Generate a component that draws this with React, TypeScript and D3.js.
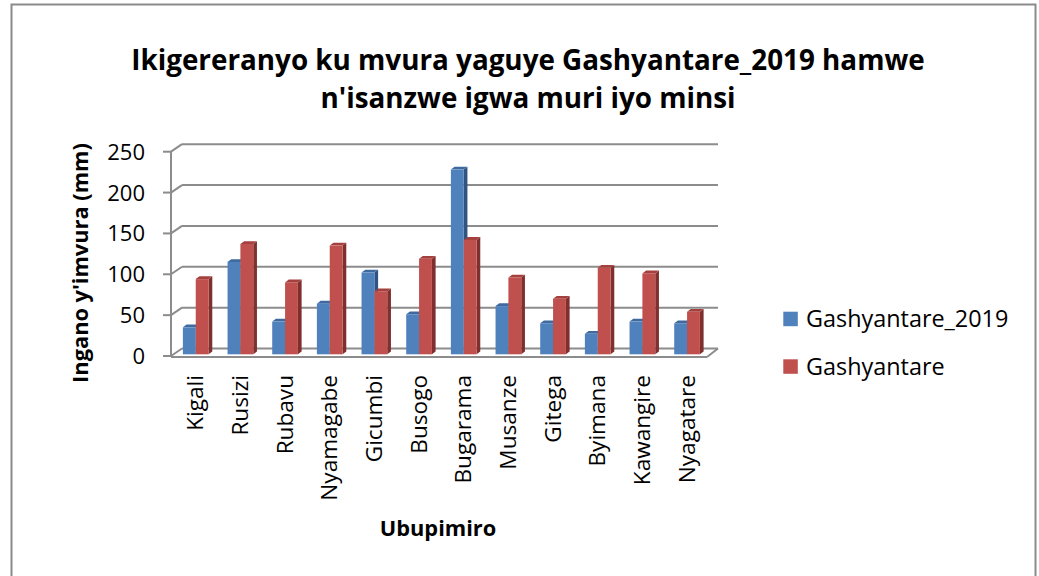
import React from "react";
import * as d3 from "d3";

const categories = ["Kigali","Rusizi","Rubavu","Nyamagabe","Gicumbi","Busogo","Bugarama","Musanze","Gitega","Byimana","Kawangire","Nyagatare"];
const series2019 = [33, 113, 40, 62, 100, 49, 226, 59, 38, 25, 40, 38];
const seriesNormal = [92, 135, 88, 133, 77, 117, 140, 94, 68, 106, 99, 52];
const seriesNames = ["Gashyantare_2019", "Gashyantare"];
const yTicks = [0, 50, 100, 150, 200, 250];

const FONT = "'Open Sans', sans-serif";

export default function App() {
  const W = 1039, H = 576;
  const x0 = 171, x1 = 707;
  const y = d3.scaleLinear().domain([0, 250]).range([356, 151.7]);
  const x = d3.scaleBand<string>().domain(categories).range([x0, x1]).padding(0);
  const sub = d3.scaleBand<string>().domain(seriesNames).range([0, 25.7]).padding(0);
  const back = { dx: 11, dy: -7.5 };
  const barPlane = { dx: 2.4, dy: -1.7 };
  const depth = { dx: 3.7, dy: -2.8 };

  const fronts = ["#4f81bd", "#c0504d"];
  const sides = ["#2f5482", "#7f302e"];
  const tops = ["#3f6aa0", "#a4403e"];
  const data = [series2019, seriesNormal];

  const grid = "#8c8c8c";

  const bars: React.ReactNode[] = [];
  categories.forEach((c, i) => {
    const bandStart = (x(c) as number) + (x.bandwidth() - sub.range()[1]) / 2 + barPlane.dx;
    seriesNames.forEach((s, j) => {
      const v = data[j][i];
      const l = bandStart + (sub(s) as number);
      const r = l + sub.bandwidth();
      const yb = y(0) + barPlane.dy;
      const yt = y(v) + barPlane.dy;
      const side = `M${r},${yb} L${r + depth.dx},${yb + depth.dy} L${r + depth.dx},${yt + depth.dy} L${r},${yt} Z`;
      const top = `M${l},${yt} L${l + depth.dx},${yt + depth.dy} L${r + depth.dx},${yt + depth.dy} L${r},${yt} Z`;
      bars.push(
        <g key={c + s}>
          <path d={side} fill={sides[j]} />
          <path d={top} fill={tops[j]} />
          <rect x={l} y={yt} width={r - l} height={yb - yt} fill={fronts[j]} />
        </g>
      );
    });
  });

  return (
    <svg width={W} height={H} style={{ position: "absolute", left: 0, top: 0, background: "#fff" }} fontFamily={FONT}>
      <rect x={0} y={0} width={W} height={H} fill="#fff" />
      <rect x={11.5} y={4.5} width={1024} height={600} fill="none" stroke="#8a8a8a" strokeWidth={2} />
      <text x={528} y={70} textAnchor="middle" fontWeight="bold" fontSize={27.8} fill="#000">Ikigereranyo ku mvura yaguye Gashyantare_2019 hamwe</text>
      <text x={528} y={108} textAnchor="middle" fontWeight="bold" fontSize={27.8} fill="#000">n'isanzwe igwa muri iyo minsi</text>

      {yTicks.map((t) => (
        <g key={t}>
          <line x1={x0 + back.dx} x2={x1 + back.dx} y1={y(t) + back.dy} y2={y(t) + back.dy} stroke={grid} strokeWidth={2} />
          <line x1={x0} x2={x0 + back.dx} y1={y(t)} y2={y(t) + back.dy} stroke={grid} strokeWidth={2} />
          <line x1={x0 - 8} x2={x0} y1={y(t)} y2={y(t)} stroke={grid} strokeWidth={2} />
          <text x={145} y={y(t) + 8} textAnchor="end" fontSize={22} fill="#000">{t}</text>
        </g>
      ))}
      <line x1={x0} x2={x1} y1={y(0) + 1} y2={y(0) + 1} stroke={grid} strokeWidth={2} />
      <line x1={x1} x2={x1 + back.dx} y1={y(0) + 1} y2={y(0) + back.dy} stroke={grid} strokeWidth={2} />
      <line x1={x0} x2={x0} y1={y(250)} y2={y(0) + 1} stroke={grid} strokeWidth={2} />

      {bars}

      {categories.map((c) => {
        const cx = (x(c) as number) + x.bandwidth() / 2 + barPlane.dx + 7.5;
        return (
          <text key={c} transform={`translate(${cx},375) rotate(-90)`} textAnchor="end" fontSize={22.6} fill="#000">{c}</text>
        );
      })}

      <text transform={`translate(88,263) rotate(-90)`} textAnchor="middle" fontWeight="bold" fontSize={21.8} fill="#000">Ingano y'imvura (mm)</text>
      <text x={438} y={536} textAnchor="middle" fontWeight="bold" fontSize={21.8} fill="#000">Ubupimiro</text>

      {seriesNames.map((s, j) => (
        <g key={s}>
          <rect x={783.3} y={311.7 + j * 47.6} width={14.5} height={14.5} fill={fronts[j]} />
          <text x={806} y={327 + j * 47.6} fontSize={23.4} fill="#000">{s}</text>
        </g>
      ))}
    </svg>
  );
}
